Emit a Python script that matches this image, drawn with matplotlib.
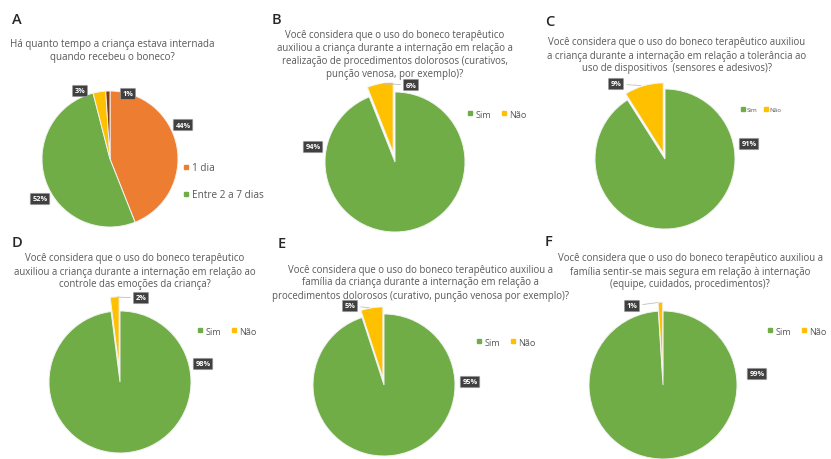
import numpy as np
import matplotlib
matplotlib.use('Agg')
from matplotlib import pyplot as plt
from matplotlib.lines import Line2D

W, H = 831, 460

# --- data -------------------------------------------------------------
letters = ['A', 'B', 'C', 'D', 'E', 'F']

titles = [
    'Há quanto tempo a criança estava internada\nquando recebeu o boneco?',
    'Você considera que o uso do boneco terapêutico\nauxiliou a criança durante a internação em relação a\n'
    'realização de procedimentos dolorosos (curativos,\npunção venosa, por exemplo)?',
    'Você considera que o uso do boneco terapêutico auxiliou\na criança durante a internação em relação a tolerância ao\n'
    'uso de dispositivos  (sensores e adesivos)?',
    'Você considera que o uso do boneco terapêutico\nauxiliou a criança durante a internação em relação ao\n'
    'controle das emoções da criança?',
    'Você considera que o uso do boneco terapêutico auxiliou a\nfamília da criança durante a internação em relação a\n'
    'procedimentos dolorosos (curativo, punção venosa por exemplo)?',
    'Você considera que o uso do boneco terapêutico auxiliou a\nfamília sentir-se mais segura em relação à internação\n'
    '(equipe, cuidados, procedimentos)?',
]

a_labels = ['1 dia', 'Entre 2 a 7 dias', 'Entre 8 a 15 dias', 'Mais de 15 dias']
a_values = [44, 52, 3, 1]

yn_labels = ['Sim', 'Não']
b_values = [94, 6]
c_values = [91, 9]
d_values = [98, 2]
e_values = [95, 5]
f_values = [99, 1]

all_values = [a_values, b_values, c_values, d_values, e_values, f_values]

# --- styling / layout (pixels) ---------------------------------------
green = '#70ad47'
orange = '#ed7d31'
yellow = '#ffc000'
brown = '#843c0c'
a_colors = [orange, green, yellow, brown]
yn_colors = [green, yellow]
txt = '#595959'

letter_xy = [(12, 20), (272, 20), (545, 22), (12, 243), (278, 244), (545, 242)]
title_xy = [(112, 51), (395, 55), (677, 56), (135, 272), (420, 283), (690, 272)]
title_fs = [7.1, 6.9, 6.9, 6.9, 6.9, 6.9]
pie_geo = [(110, 160, 68), (395, 163, 70), (665, 160, 70),
           (120, 383, 71), (384, 386, 71), (663, 386, 74)]
explodes = [[0, 0, 0, 0], [0, 0.14], [0, 0.09], [0, 0.2], [0, 0.1], [0, 0.12]]
# label box positions in pixels, per slice
label_xy = [
    [(183, 126), (40, 200), (80, 92), (128, 95)],
    [(313, 148), (411, 86)],
    [(749, 145), (616, 85)],
    [(203, 365), (141, 299)],
    [(470, 383), (350, 307)],
    [(757, 375), (632, 307)],
]
leader = [[False, False, False, False], [False, True], [False, True],
          [False, True], [False, True], [False, True]]
legend_xy = [(178, 158), (463, 106), (738, 105), (193, 323), (472, 334), (763, 323)]
legend_fs = [7.2, 6.6, 4.5, 6.6, 6.6, 6.6]

plt.rcParams['font.family'] = ['Open Sans', 'DejaVu Sans']

fig = plt.figure(figsize=(W / 100, H / 100), dpi=100)
fig.patch.set_facecolor('white')


def fpos(x, y):
    return x / W, 1 - y / H


for i in range(6):
    lx, ly = fpos(*letter_xy[i])
    fig.text(lx, ly, letters[i], fontsize=10.5, color='#262626', ha='left', va='center',
             fontweight='semibold')
    tx, ty = fpos(*title_xy[i])
    fig.text(tx, ty, titles[i], fontsize=title_fs[i], color=txt, ha='center', va='center',
             linespacing=1.25)

    cx, cy, r = pie_geo[i]
    ax = fig.add_axes([(cx - r) / W, 1 - (cy + r) / H, 2 * r / W, 2 * r / H])
    vals = all_values[i]
    cols = a_colors if i == 0 else yn_colors
    wedges, _ = ax.pie(vals, colors=cols, startangle=90, counterclock=False,
                       explode=explodes[i], radius=1,
                       wedgeprops=dict(edgecolor='#f2f2f2', linewidth=0.7))
    ax.set_xlim(-1, 1)
    ax.set_ylim(-1, 1)
    ax.axis('off')
    for w in wedges:
        w.set_clip_on(False)

    for j, w in enumerate(wedges):
        pct = '%d%%' % vals[j]
        bx, by = fpos(*label_xy[i][j])
        mid = np.deg2rad((w.theta1 + w.theta2) / 2)
        ox, oy = w.center
        px, py = ox + np.cos(mid) * 1.0, oy + np.sin(mid) * 1.0
        ax.annotate(pct, xy=(px, py), xycoords='data', xytext=(bx, by),
                    textcoords='figure fraction', ha='center', va='center',
                    fontsize=5.3, color='white', fontweight='bold',
                    bbox=dict(boxstyle='round,pad=0.3,rounding_size=0.15', fc='#404040',
                              ec='#a6a6a6', lw=0.5),
                    arrowprops=dict(arrowstyle='-', color='#bfbfbf', lw=0.6)
                    if leader[i][j] else None,
                    annotation_clip=False, zorder=5)

    names = a_labels[:2] if i == 0 else yn_labels
    handles = [Line2D([], [], marker='s', ls='', color=cols[k], markersize=3)
               for k in range(len(names))]
    gx, gy = fpos(*legend_xy[i])
    if i == 0:
        fig.legend(handles, names, loc='upper left', bbox_to_anchor=(gx, gy), frameon=False,
                   fontsize=legend_fs[i], labelcolor=txt, handlelength=0.6, handletextpad=0.3,
                   labelspacing=1.6, borderpad=0)
    else:
        fig.legend(handles, names, loc='upper left', bbox_to_anchor=(gx, gy), frameon=False,
                   fontsize=legend_fs[i], labelcolor=txt, handlelength=0.6, handletextpad=0.3,
                   ncol=2, columnspacing=1.0, borderpad=0)

fig.savefig('out.png', dpi=100)
